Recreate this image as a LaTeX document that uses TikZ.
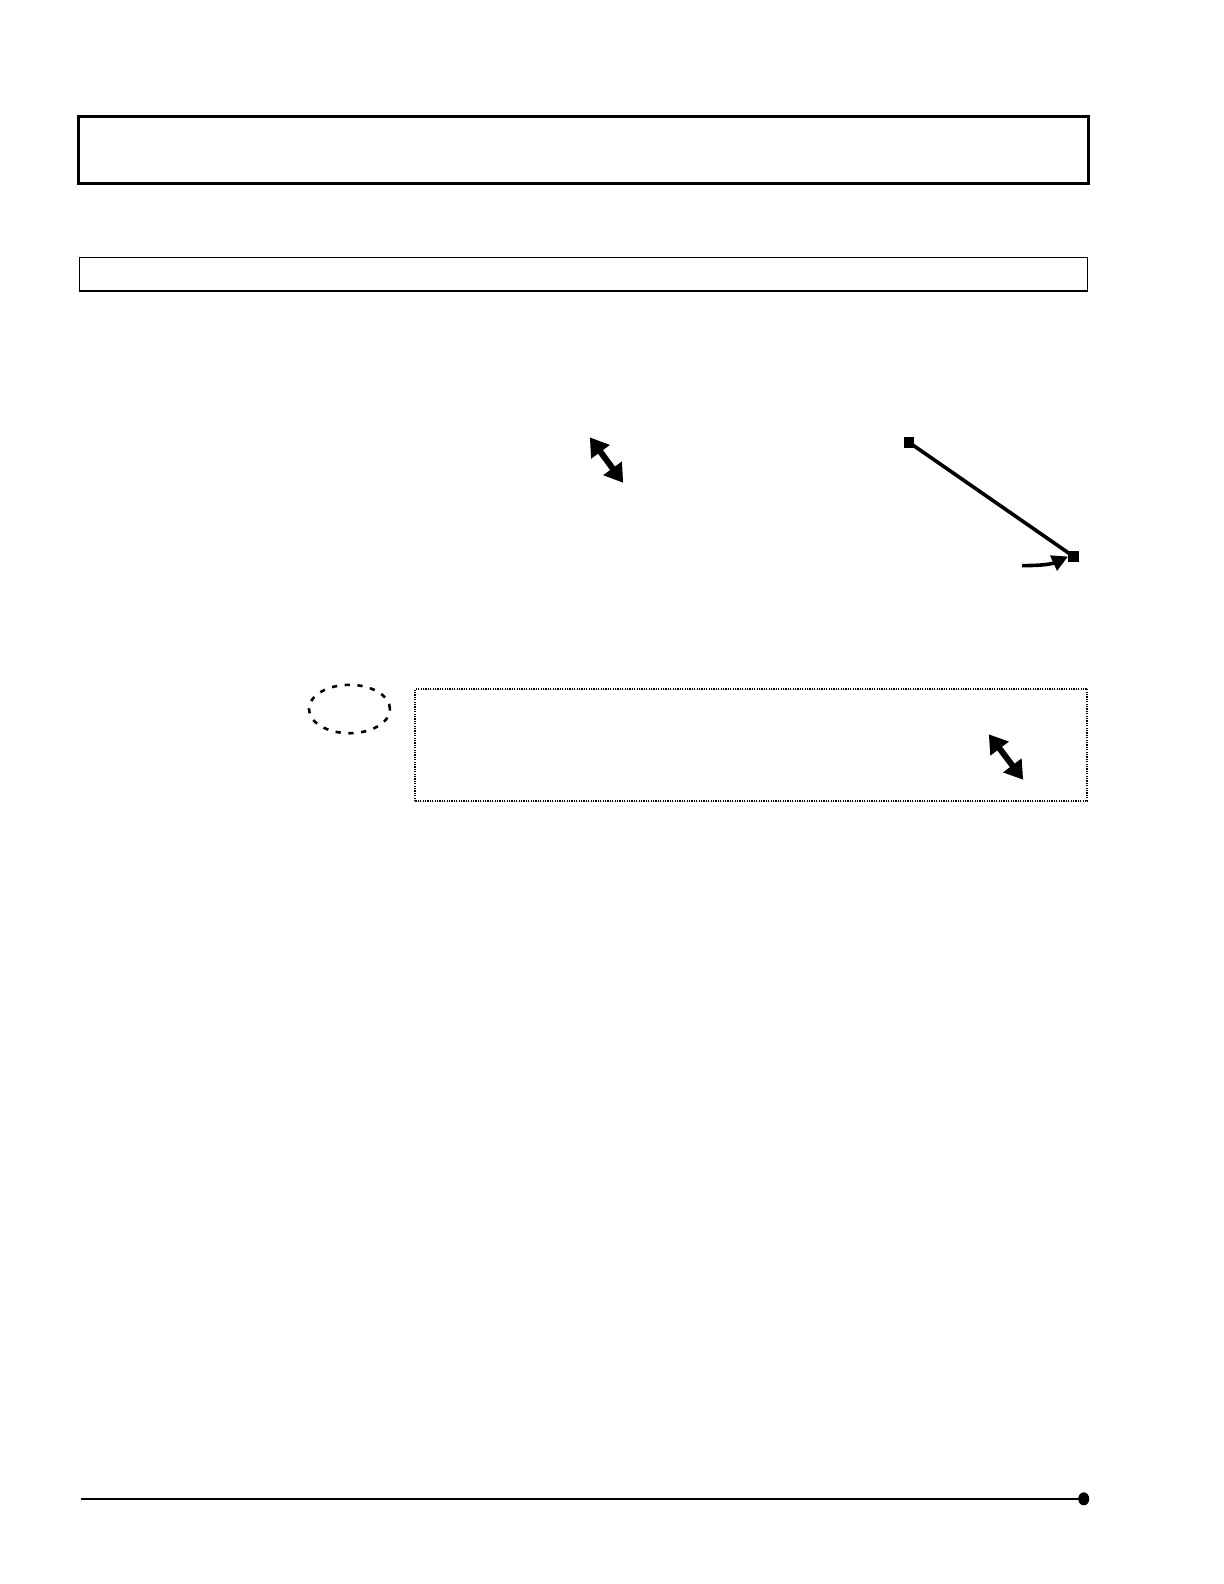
\documentclass[tikz,border=0pt]{standalone}
\usetikzlibrary{arrows.meta,shapes.geometric}
\tikzset{
  dblarrow/.style={line width=3bp,{Triangle[length=9bp,width=11bp]}-{Triangle[length=9bp,width=11bp]}},
  endsq/.style={fill=black,inner sep=0pt,minimum size=5.2bp,draw=none},
  headbox/.style={draw,line width=1.6bp},
  thinbox/.style={draw,line width=0.7bp},
}
\begin{document}
\begin{tikzpicture}[x=0.505bp,y=-0.505bp]
\useasboundingbox (0bp,0bp) rectangle (612bp,-792bp);
% header boxes
\node[headbox,minimum width=505bp,minimum height=33.8bp,inner sep=0pt] (title) at (578,148.5) {};
\node[thinbox,minimum width=504bp,minimum height=16.7bp,inner sep=0pt] (sub) at (578,271.5) {};
% first double arrow
\coordinate (a1s) at (584,433);
\coordinate (a1e) at (617,478);
\draw[dblarrow] (a1s) -- (a1e);
% line with squares
\node[endsq] (p1) at (900,438) {};
\node[endsq] (p2) at (1063,551) {};
\draw[line width=1.8bp] (p1.center) -- (p2.center);
\coordinate (c1) at (1012,560);
\draw[line width=1.8bp,-{Triangle[length=8bp,width=8bp]}] (c1) .. controls (1035,560) and (1042,558) .. (p2.west);
% dashed ellipse
\node[ellipse,draw,line width=1.3bp,dash pattern=on 2.6bp off 3.8bp,minimum width=40.5bp,minimum height=24.2bp,inner sep=0pt] (ell) at (346,702) {};
% dotted note box
\node[draw,line width=1bp,dash pattern=on 0.6bp off 0.6bp,minimum width=336bp,minimum height=56bp,inner sep=0pt] (note) at (744,737.5) {};
% second double arrow
\coordinate (a2s) at (979,727);
\coordinate (a2e) at (1013,772);
\draw[dblarrow] (a2s) -- (a2e);
% footer line
\node[ellipse,fill=black,inner sep=0pt,minimum width=5.5bp,minimum height=6.5bp] (dot) at (1073,1484) {};
\coordinate (fl) at (80,1484);
\draw[line width=0.7bp] (fl) -- (dot.center);
\end{tikzpicture}
\end{document}
